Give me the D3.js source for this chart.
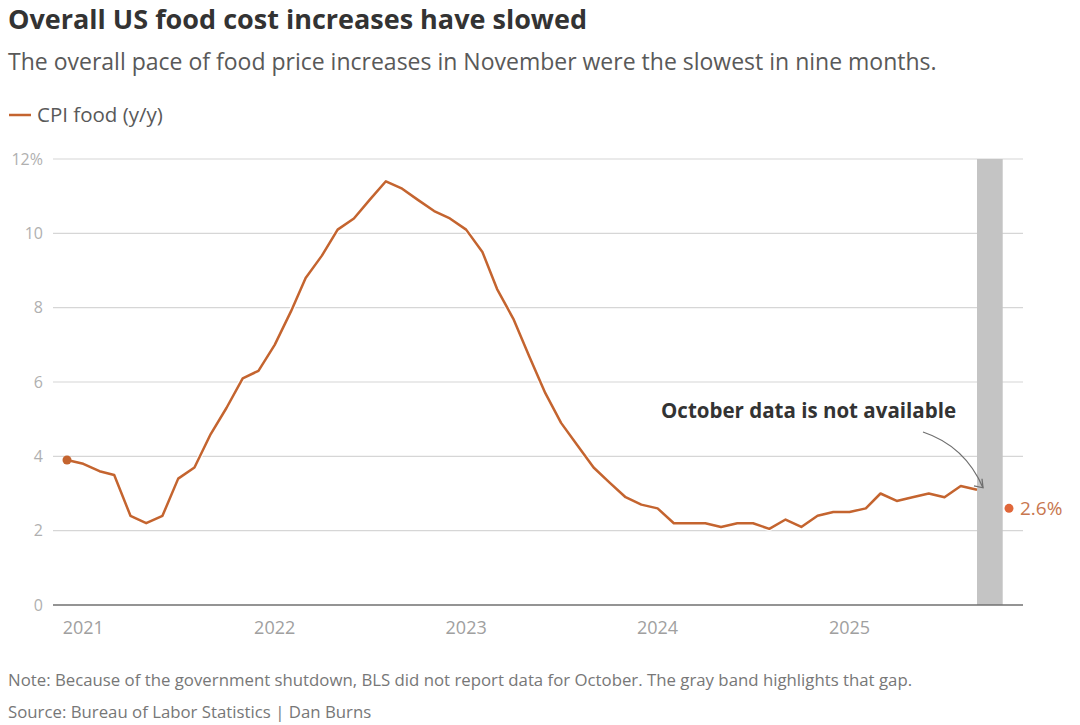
<!DOCTYPE html>
<html lang="en">
<head>
    <meta charset="UTF-8">
    <title>Overall US food cost increases have slowed</title>
    <script src="https://d3js.org/d3.v7.min.js"></script>
    <style>
        body {
            margin: 0;
            background: #fff;
            font-family: "Open Sans", sans-serif;
        }
        svg text {
            font-family: "Open Sans", sans-serif;
        }
        .grid line {
            stroke: #d6d6d6;
            stroke-width: 1.2px;
        }
        .ylab text {
            fill: #b0b0b0;
            font-size: 16px;
        }
        .xlab text {
            fill: #a0a0a0;
            font-size: 18px;
        }
    </style>
</head>
<body>
    <svg width="1080" height="725"></svg>

    <script>
        // CPI food, year over year %, Dec 2020 .. Sep 2025 (October missing)
        const months = [
            "2020-12",
            "2021-01", "2021-02", "2021-03", "2021-04", "2021-05", "2021-06",
            "2021-07", "2021-08", "2021-09", "2021-10", "2021-11", "2021-12",
            "2022-01", "2022-02", "2022-03", "2022-04", "2022-05", "2022-06",
            "2022-07", "2022-08", "2022-09", "2022-10", "2022-11", "2022-12",
            "2023-01", "2023-02", "2023-03", "2023-04", "2023-05", "2023-06",
            "2023-07", "2023-08", "2023-09", "2023-10", "2023-11", "2023-12",
            "2024-01", "2024-02", "2024-03", "2024-04", "2024-05", "2024-06",
            "2024-07", "2024-08", "2024-09", "2024-10", "2024-11", "2024-12",
            "2025-01", "2025-02", "2025-03", "2025-04", "2025-05", "2025-06",
            "2025-07", "2025-08", "2025-09"
        ];
        const cpiFood = [
            3.9,
            3.8, 3.6, 3.5, 2.4, 2.2, 2.4, 3.4, 3.7, 4.6, 5.3, 6.1, 6.3,
            7.0, 7.9, 8.8, 9.4, 10.1, 10.4, 10.9, 11.4, 11.2, 10.9, 10.6, 10.4,
            10.1, 9.5, 8.5, 7.7, 6.7, 5.7, 4.9, 4.3, 3.7, 3.3, 2.9, 2.7,
            2.6, 2.2, 2.2, 2.2, 2.1, 2.2, 2.2, 2.05, 2.3, 2.1, 2.4, 2.5,
            2.5, 2.6, 3.0, 2.8, 2.9, 3.0, 2.9, 3.2, 3.1
        ];
        const latest = { month: "2025-11", value: 2.6 };
        const gapStart = "2025-09-01", gapEnd = "2025-10-20";
        const yTicks = [0, 2, 4, 6, 8, 10, 12];
        const xTicks = ["2021", "2022", "2023", "2024", "2025"];

        const parseMonth = d3.timeParse("%Y-%m");
        const parseDay = d3.timeParse("%Y-%m-%d");
        const data = months.map((m, i) => ({ date: parseMonth(m), value: cpiFood[i] }));

        const svg = d3.select("svg");
        const plotLeft = 53, plotRight = 1023, plotTop = 159, plotBottom = 605;
        const lineColor = "#c4642f";

        const x = d3.scaleTime()
            .domain([parseMonth("2020-12"), parseMonth("2025-09")])
            .range([67, 977]);
        const y = d3.scaleLinear().domain([0, 12]).range([plotBottom, plotTop]);

        // Titles
        svg.append("text").attr("x", 8).attr("y", 29)
            .attr("font-size", 27).attr("font-weight", 700).attr("fill", "#333")
            .text("Overall US food cost increases have slowed");
        svg.append("text").attr("x", 8).attr("y", 70)
            .attr("font-size", 23).attr("fill", "#595959")
            .text("The overall pace of food price increases in November were the slowest in nine months.");

        // Legend
        svg.append("line").attr("x1", 9).attr("x2", 31).attr("y1", 115).attr("y2", 115)
            .attr("stroke", lineColor).attr("stroke-width", 2.5);
        svg.append("text").attr("x", 37).attr("y", 122)
            .attr("font-size", 20.5).attr("fill", "#595959")
            .text("CPI food (y/y)");

        // Grid lines
        svg.append("g").attr("class", "grid")
            .selectAll("line")
            .data(yTicks.filter(d => d > 0))
            .enter().append("line")
            .attr("x1", plotLeft).attr("x2", plotRight)
            .attr("y1", d => y(d)).attr("y2", d => y(d));

        // Gray band for the missing October
        svg.append("rect")
            .attr("x", x(parseDay(gapStart)))
            .attr("width", x(parseDay(gapEnd)) - x(parseDay(gapStart)))
            .attr("y", plotTop).attr("height", plotBottom - plotTop)
            .attr("fill", "#c4c4c4");

        // Baseline
        svg.append("line").attr("x1", plotLeft).attr("x2", plotRight)
            .attr("y1", y(0)).attr("y2", y(0))
            .attr("stroke", "#707070").attr("stroke-width", 1.6);

        // Y labels
        svg.append("g").attr("class", "ylab")
            .selectAll("text")
            .data(yTicks)
            .enter().append("text")
            .attr("x", 43).attr("y", d => y(d))
            .attr("dy", "0.35em")
            .attr("text-anchor", "end")
            .text(d => d === 12 ? "12%" : d);

        // X labels
        svg.append("g").attr("class", "xlab")
            .selectAll("text")
            .data(xTicks)
            .enter().append("text")
            .attr("x", d => x(d3.timeParse("%Y")(d)))
            .attr("y", 634)
            .attr("text-anchor", "middle")
            .text(d => d);

        // Line
        const line = d3.line().x(d => x(d.date)).y(d => y(d.value));
        svg.append("path").datum(data)
            .attr("d", line)
            .attr("fill", "none")
            .attr("stroke", "#fff")
            .attr("stroke-width", 5)
            .attr("stroke-linejoin", "round")
            .attr("opacity", 0.8);
        svg.append("path").datum(data)
            .attr("d", line)
            .attr("fill", "none")
            .attr("stroke", lineColor)
            .attr("stroke-width", 2.5)
            .attr("stroke-linejoin", "round");

        svg.append("circle")
            .attr("cx", x(data[0].date)).attr("cy", y(data[0].value))
            .attr("r", 4.5).attr("fill", lineColor);

        // Latest value (November)
        const latestX = x(parseMonth(latest.month)), latestY = y(latest.value);
        svg.append("circle")
            .attr("cx", latestX).attr("cy", latestY)
            .attr("r", 4.5).attr("fill", "#e0673a");
        svg.append("text")
            .attr("x", latestX + 11).attr("y", latestY)
            .attr("dy", "0.35em")
            .attr("font-size", 19).attr("fill", "#c8774f")
            .text(latest.value + "%");

        // Annotation
        svg.append("text").attr("x", 956).attr("y", 418)
            .attr("text-anchor", "end")
            .attr("font-size", 20.5).attr("font-weight", 700).attr("fill", "#333")
            .text("October data is not available");

        const last = data[data.length - 1];
        const ax = x(last.date) + 6, ay = y(last.value) - 2;
        svg.append("path")
            .attr("d", `M923,432 Q965,446 ${ax},${ay}`)
            .attr("fill", "none").attr("stroke", "#6f6f6f").attr("stroke-width", 1.3);
        svg.append("path")
            .attr("d", `M${ax - 1},${ay - 9} L${ax},${ay} L${ax - 9},${ay - 2}`)
            .attr("fill", "none").attr("stroke", "#6f6f6f").attr("stroke-width", 1.3);

        // Notes
        svg.append("text").attr("x", 8).attr("y", 686)
            .attr("font-size", 16.8).attr("fill", "#777")
            .text("Note: Because of the government shutdown, BLS did not report data for October. The gray band highlights that gap.");
        svg.append("text").attr("x", 8).attr("y", 718)
            .attr("font-size", 16.8).attr("fill", "#777")
            .text("Source: Bureau of Labor Statistics | Dan Burns");
    </script>
</body>
</html>
